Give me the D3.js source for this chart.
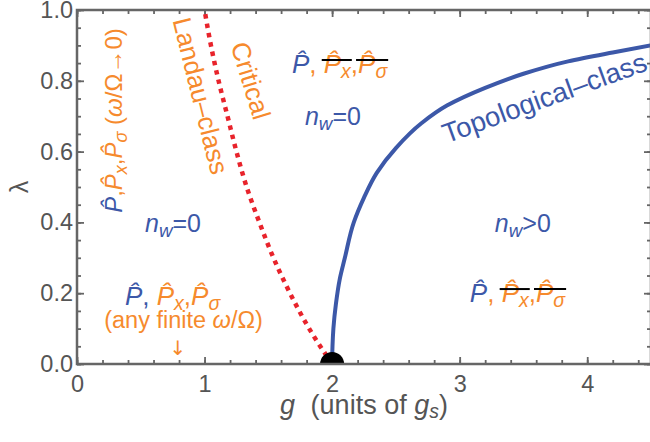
<!DOCTYPE html>
<html>
<head>
<meta charset="utf-8">
<script src="https://cdn.jsdelivr.net/npm/d3@7"></script>
<style>
  body { margin: 0; background: #fff; }
  svg { display: block; font-family: "Liberation Sans", Arial, Helvetica, sans-serif; }
</style>
</head>
<body>
<div id="chart"></div>
<script>
// Landau-class (critical) boundary, red dotted
const landauLambda = [0, 0.1, 0.2, 0.3, 0.4, 0.5, 0.6, 0.7, 0.8, 0.9, 1.0];
const landauG      = [2.0, 1.82, 1.67, 1.54, 1.43, 1.33, 1.25, 1.18, 1.11, 1.05, 1.0];

// Topological-class boundary, blue solid
const topoG      = [2.0, 2.003, 2.01, 2.03, 2.06, 2.1, 2.17, 2.25, 2.35, 2.5, 2.7, 2.9, 3.2, 3.5, 3.85, 4.2, 4.5];
const topoLambda = [0.0, 0.05, 0.10, 0.17, 0.24, 0.30, 0.40, 0.47, 0.54, 0.61, 0.68, 0.73, 0.78, 0.82, 0.855, 0.88, 0.90];

// tricritical point
const pointG = [2];
const pointLambda = [0];

// ticks
const xTicks = [0, 1, 2, 3, 4];
const xMinor = d3.range(0, 4.5, 0.2);
const yTicks = [0, 0.2, 0.4, 0.6, 0.8, 1.0];
const yMinor = d3.range(0, 1.001, 0.05);

const blue = "#3c58a8", orange = "#f68a2d", red = "#e8232b";
const frameGray = "#666", tickGray = "#555";

const W = 650, H = 442;
const margin = { top: 10, right: -1, bottom: 78, left: 77 };

const x = d3.scaleLinear().domain([0, 4.5]).range([margin.left, W - margin.right]);
const y = d3.scaleLinear().domain([0, 1]).range([H - margin.bottom, margin.top]);

const svg = d3.select("#chart").append("svg")
    .attr("width", W)
    .attr("height", H);

svg.append("clipPath").attr("id", "plot")
  .append("rect")
    .attr("x", x(0)).attr("y", y(1))
    .attr("width", x(4.5) - x(0)).attr("height", y(0) - y(1));

// frame ticks on all four sides, pointing inward
function ticks(axis, tr, vals, size, fmt, pad) {
  const g = svg.append("g").attr("transform", tr)
      .call(axis.tickValues(vals).tickSize(-size).tickPadding(pad || 3).tickFormat(fmt || ""));
  g.select(".domain").remove();
  g.attr("font-family", null).attr("font-size", 23.5);
  g.selectAll("line").attr("stroke", frameGray).attr("stroke-width", 1.8);
  g.selectAll("text").attr("fill", tickGray);
  return g;
}
ticks(d3.axisBottom(x), `translate(0,${y(0)})`, xMinor, 4);
ticks(d3.axisBottom(x), `translate(0,${y(0)})`, xTicks, 7, d3.format("d"), 11);
ticks(d3.axisTop(x), `translate(0,${y(1)})`, xMinor, 4);
ticks(d3.axisTop(x), `translate(0,${y(1)})`, xTicks, 7);
ticks(d3.axisLeft(y), `translate(${x(0)},0)`, yMinor, 4);
ticks(d3.axisLeft(y), `translate(${x(0)},0)`, yTicks, 7, d3.format(".1f"), 4);
ticks(d3.axisRight(y), `translate(${x(4.5)},0)`, yMinor, 4);
ticks(d3.axisRight(y), `translate(${x(4.5)},0)`, yTicks, 7);

// curves
const line = d3.line().x(d => x(d[0])).y(d => y(d[1])).curve(d3.curveMonotoneY);
const plot = svg.append("g").attr("clip-path", "url(#plot)");

plot.append("path")
    .datum(topoG.map((g, i) => [g, topoLambda[i]]))
    .attr("d", line)
    .attr("fill", "none")
    .attr("stroke", blue)
    .attr("stroke-width", 4);

plot.append("path")
    .datum(landauG.map((g, i) => [g, landauLambda[i]]))
    .attr("d", line)
    .attr("fill", "none")
    .attr("stroke", red)
    .attr("stroke-width", 4.5)
    .attr("stroke-dasharray", "4.5,5");

plot.selectAll("circle")
    .data(pointG.map((g, i) => [g, pointLambda[i]]))
    .join("circle")
    .attr("cx", d => x(d[0]))
    .attr("cy", d => y(d[1]))
    .attr("r", 12)
    .attr("fill", "#000");

svg.append("rect")
    .attr("x", x(0)).attr("y", y(1))
    .attr("width", x(4.5) - x(0)).attr("height", y(0) - y(1))
    .attr("fill", "none")
    .attr("stroke", frameGray)
    .attr("stroke-width", 2.5);

// rich text: parts = {t, c, it, sub, strike}
function label(gx, gy, parts, opts = {}) {
  const g = svg.append("g")
      .attr("transform", `translate(${x(gx)},${y(gy)}) rotate(${opts.rotate || 0})`);
  const size = opts.size || 25;
  const t = g.append("text")
      .attr("font-size", size)
      .attr("text-anchor", opts.anchor || "start");
  if (opts.font) t.attr("font-family", opts.font);
  const drop = size * 0.2;
  let low = false;
  const struck = {};
  parts.forEach(p => {
    const s = t.append("tspan").text(p.t).attr("fill", p.c);
    if (p.it) s.attr("font-style", "italic");
    if (p.sub) {
      s.attr("font-size", "0.75em");
      if (!low) { s.attr("dy", drop); low = true; }
    } else if (low) {
      s.attr("dy", -drop); low = false;
    }
    if (p.strike) (struck[p.strike] = struck[p.strike] || []).push(s.node());
  });
  Object.values(struck).forEach(nodes => {
    let a = Infinity, b = -Infinity;
    nodes.forEach(n => {
      const x0 = n.getStartPositionOfChar(0).x;
      a = Math.min(a, x0);
      b = Math.max(b, x0 + n.getComputedTextLength());
    });
    g.append("line")
        .attr("x1", a - 2).attr("x2", b + 1)
        .attr("y1", -size * 0.5).attr("y2", -size * 0.5)
        .attr("stroke", "#000").attr("stroke-width", 2);
  });
  return g;
}

const P = "P\u0302";
function pParts(strike, comma) {
  return [
    { t: P, c: blue, it: 1 },
    { t: ", ", c: comma },
    { t: P, c: orange, it: 1, strike: strike ? 1 : 0 },
    { t: "x", c: orange, it: 1, sub: 1, strike: strike ? 1 : 0 },
    { t: ",", c: orange },
    { t: P, c: orange, it: 1, strike: strike ? 2 : 0 },
    { t: "σ", c: orange, it: 1, sub: 1, strike: strike ? 2 : 0 }
  ];
}
const nw = sign => [
  { t: "n", c: blue, it: 1 },
  { t: "w", c: blue, it: 1, sub: 1 },
  { t: sign + "0", c: blue }
];

// region labels
label(1.685, 0.822, pParts(true, orange), { size: 26 });
label(1.787, 0.675, nw("="));
label(0.533, 0.373, nw("="));
label(3.276, 0.373, nw(">"));
label(3.08, 0.175, pParts(true, orange), { size: 26 });
label(0.376, 0.167, pParts(false, blue), { size: 26 });
label(0.835, 0.102, [
  { t: "(any finite ", c: orange },
  { t: "ω", c: orange, it: 1 },
  { t: "/Ω)", c: orange }
], { size: 23.5, anchor: "middle" });
label(0.79, 0.025, [{ t: "↓", c: orange }], { size: 20, anchor: "middle", font: "DejaVu Sans" });

label(0.353, 0.427, [
  { t: P, c: blue, it: 1 },
  { t: ",", c: orange },
  { t: P, c: orange, it: 1 },
  { t: "x", c: orange, it: 1, sub: 1 },
  { t: ",", c: orange },
  { t: P, c: orange, it: 1 },
  { t: "σ", c: orange, it: 1, sub: 1 },
  { t: " (", c: orange },
  { t: "ω", c: orange, it: 1 },
  { t: "/Ω→0)", c: orange }
], { size: 24, rotate: -90 });

label(0.901, 0.751, [{ t: "Landau–class", c: orange }], { size: 26, anchor: "middle", rotate: 76 });
label(1.295, 0.793, [{ t: "Critical", c: orange }], { size: 26, anchor: "middle", rotate: 73 });
label(3.69, 0.727, [{ t: "Topological–class", c: blue }], { size: 27.5, anchor: "middle", rotate: -20 });

// axis titles
svg.append("text")
    .attr("transform", `translate(28,${y(0.5)}) rotate(-90)`)
    .attr("text-anchor", "middle")
    .attr("font-size", 25)
    .attr("fill", tickGray)
    .text("λ");

const xt = svg.append("text")
    .attr("x", x(2.25)).attr("y", 414)
    .attr("text-anchor", "middle")
    .attr("font-size", 27)
    .attr("fill", tickGray);
xt.append("tspan").attr("font-style", "italic").text("g");
xt.append("tspan").attr("dx", 8).text(" (units of ");
xt.append("tspan").attr("font-style", "italic").text("g");
xt.append("tspan").attr("font-style", "italic").attr("font-size", "0.72em").attr("dy", 4).text("s");
xt.append("tspan").attr("dy", -4).text(")");
</script>
</body>
</html>
